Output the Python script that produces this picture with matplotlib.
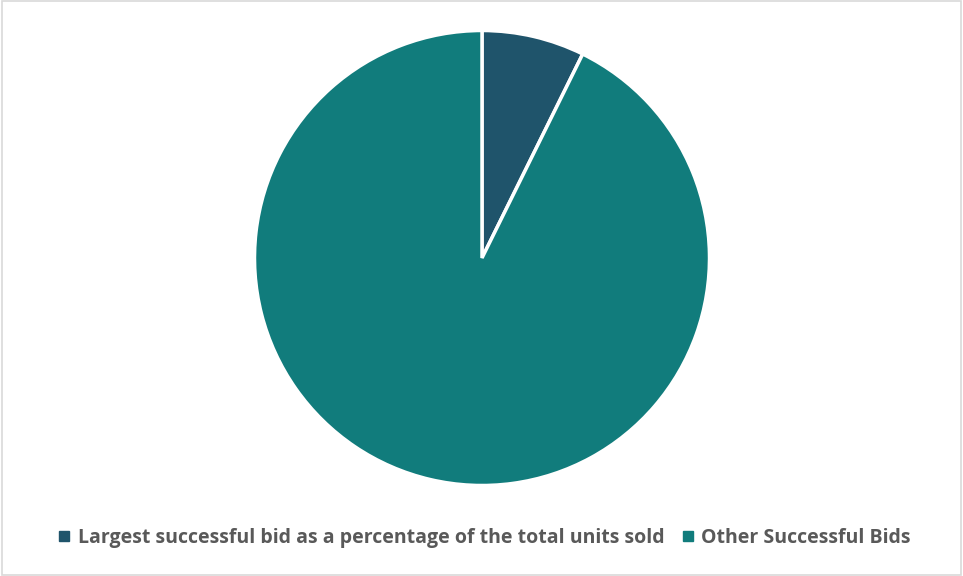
import matplotlib.pyplot as plt
from matplotlib.patches import Rectangle
from matplotlib.lines import Line2D

# Share of units sold
labels = ["Largest successful bid as a percentage of the total units sold",
          "Other Successful Bids"]
shares = [7.3, 92.7]
colors = ["#1F546B", "#117C7C"]

plt.rcParams['font.family'] = ['Open Sans', 'DejaVu Sans']

fig = plt.figure(figsize=(9.63, 5.76), dpi=100)
ax = fig.add_axes([0, 0, 1, 1])

ax.pie(shares, colors=colors, startangle=90, counterclock=False,
       center=(482, 318), radius=227.5,
       wedgeprops=dict(edgecolor='white', linewidth=2.5))

# pie() resets the limits, so fix pixel-sized limits afterwards
ax.set_xlim(0, 963)
ax.set_ylim(0, 576)
ax.set_aspect('equal')
ax.axis('off')

# light chart border
fig.patches.append(Rectangle((0.002, 0.002), 0.996, 0.996, transform=fig.transFigure,
                             fill=False, edgecolor='#D9D9D9', linewidth=1.2))

handles = [Line2D([], [], marker='s', linestyle='none', markersize=7,
                  markerfacecolor=c, markeredgecolor=c) for c in colors]
fig.legend(handles, labels, loc='center', bbox_to_anchor=(0.5, 1 - 538 / 576),
           ncol=2, frameon=False, handletextpad=0.1, columnspacing=0.6,
           handlelength=1.2, prop=dict(size=14, weight='bold'), labelcolor='#595959')

fig.savefig("out.png", dpi=100)
